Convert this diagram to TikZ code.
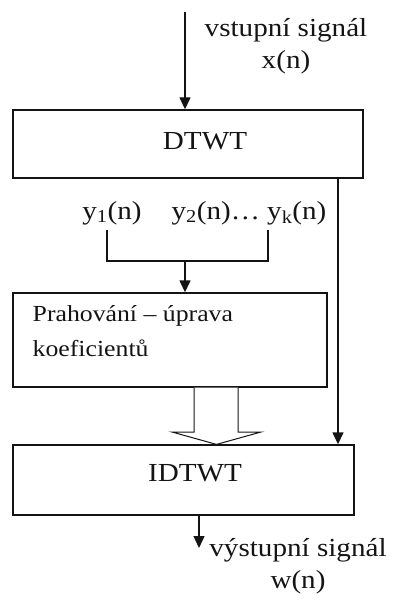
\documentclass[tikz,border=0pt]{standalone}
\usepackage{fontspec}
\setmainfont{Liberation Serif}[FakeStretch=1.12]
\usetikzlibrary{arrows.meta}
\definecolor{ink}{HTML}{141414}
\begin{document}
\begin{tikzpicture}[x=1pt,y=-1pt,
  line width=1.4pt, draw=ink, text=ink,
  box/.style={draw, rectangle, inner sep=0pt},
  arr/.style={-{Triangle[width=11pt,length=12pt]}},
  big/.style={font=\fontsize{26}{32}\selectfont, inner sep=0pt},
  mid/.style={font=\fontsize{23}{35}\selectfont, inner sep=0pt}]
\useasboundingbox (0,0) rectangle (392,601);
% boxes
\node[box, minimum width=350pt, minimum height=68pt] (dtwt) at (188,144) {};
\node[big] (dtwtl) at (205,141) {DTWT};
\node[box, minimum width=314pt, minimum height=94pt] (prah) at (170,340) {};
\node[mid, anchor=north west, align=left] (prahl) at (32,305) {Prahování – úprava\\koeficientů};
\node[box, minimum width=341pt, minimum height=70pt] (idtwt) at (183.5,480) {};
\node[big] (idtwtl) at (195,473) {IDTWT};
% input
\coordinate (in) at (185,12);
\draw[arr] (in) -- (in |- dtwt.north);
\node[big, align=center] (inl) at (286,46) {vstupní signál\\x(n)};
% y labels
\node[big] (y1) at (112,213) {y\textsubscript{1}(n)};
\node[big] (yk) at (249,213) {y\textsubscript{2}(n)… y\textsubscript{k}(n)};
\coordinate (b1) at (107,230);
\coordinate (b2) at (268,230);
\coordinate (bm) at (185,261);
\draw (b1) -- (b1 |- bm) -- (b2 |- bm) -- (b2);
\draw[arr] (bm) -- (bm |- prah.north);
% bypass
\coordinate (rx) at (338,0);
\draw[arr] (rx |- dtwt.south) -- (rx |- idtwt.north);
% hollow arrow
\draw[fill=white, line width=1pt, line join=miter] (194,387.6) -- (194,432) -- (172,432) -- (216.5,444.4) -- (261,432) -- (238,432) -- (238,387.6);
% output
\coordinate (ox) at (199,0);
\coordinate (out) at (199,548);
\draw[arr] (ox |- idtwt.south) -- (out);
\node[big, align=center] (outl) at (298,566) {výstupní signál\\w(n)};
\end{tikzpicture}
\end{document}
